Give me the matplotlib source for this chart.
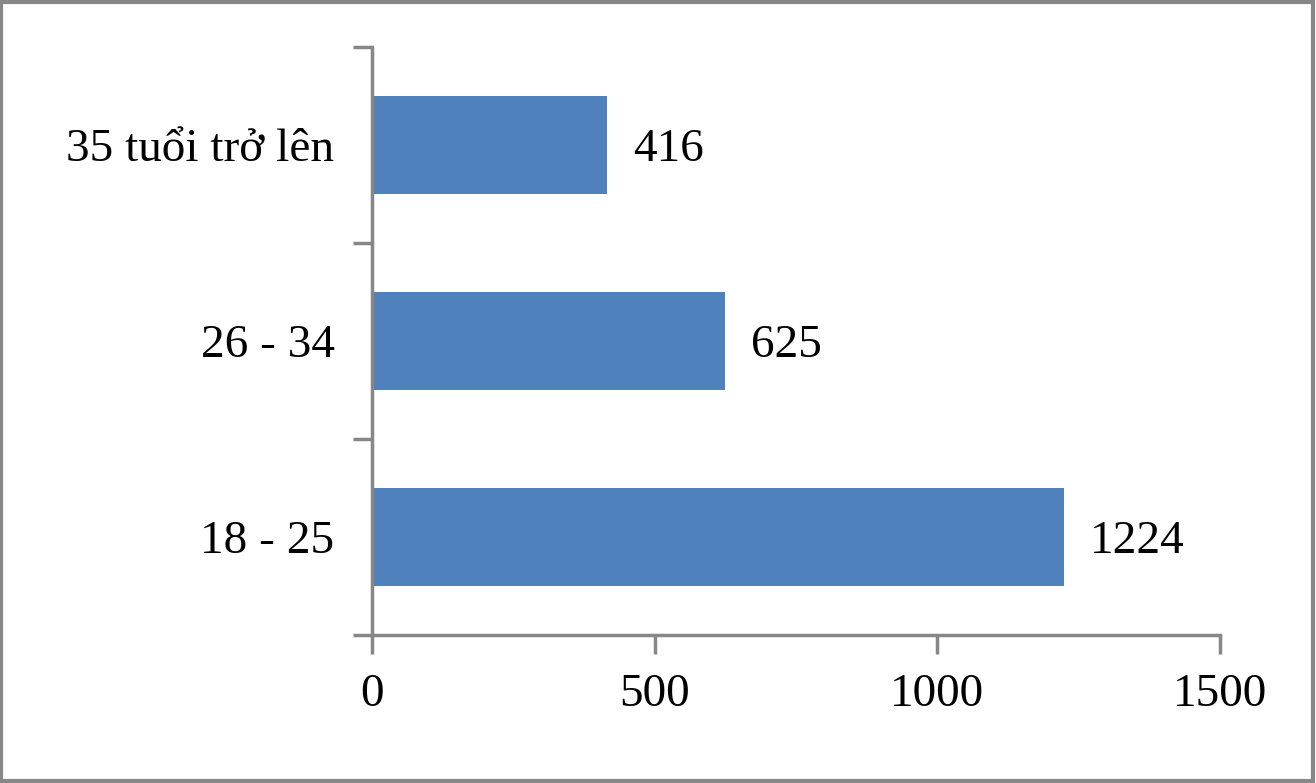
import matplotlib.pyplot as plt
from matplotlib.patches import Rectangle

categories = ["18 - 25", "26 - 34", "35 tuổi trở lên"]
values = [1224, 625, 416]
x_ticks = [0, 500, 1000, 1500]

plt.rcParams["font.family"] = ["Liberation Serif", "DejaVu Serif"]

fig = plt.figure(figsize=(13.16, 7.83), dpi=100)
ax = fig.add_axes([0.2827, 0.189, 0.6444, 0.751])

pos = range(len(categories))
ax.barh(pos, values, height=0.5, color="#4F81BD")

for p, v in zip(pos, values):
    ax.text(v + 46, p, str(v), va="center_baseline", ha="left", fontsize=34)

ax.set_xlim(0, 1500)
ax.set_ylim(-0.5, 2.5)
ax.set_xticks(x_ticks)
ax.set_yticks(list(pos))
ax.set_yticklabels(categories, va="center_baseline")
# category ticks sit on the boundaries
ax.set_yticks([-0.5, 0.5, 1.5, 2.5], minor=True)
ax.tick_params(axis="y", which="major", length=0, pad=27, labelsize=34)
ax.tick_params(axis="y", which="minor", length=14, width=2.5, color="#878787")
ax.tick_params(axis="x", length=14, width=2.5, color="#878787", pad=14, labelsize=34)

for s in ["top", "right"]:
    ax.spines[s].set_visible(False)
for s in ["left", "bottom"]:
    ax.spines[s].set_color("#878787")
    ax.spines[s].set_linewidth(2.5)

fig.patches.append(Rectangle((0.001, 0.002), 0.997, 0.995, transform=fig.transFigure,
                             fill=False, edgecolor="#878787", linewidth=3))

fig.savefig("out.png", dpi=100)
